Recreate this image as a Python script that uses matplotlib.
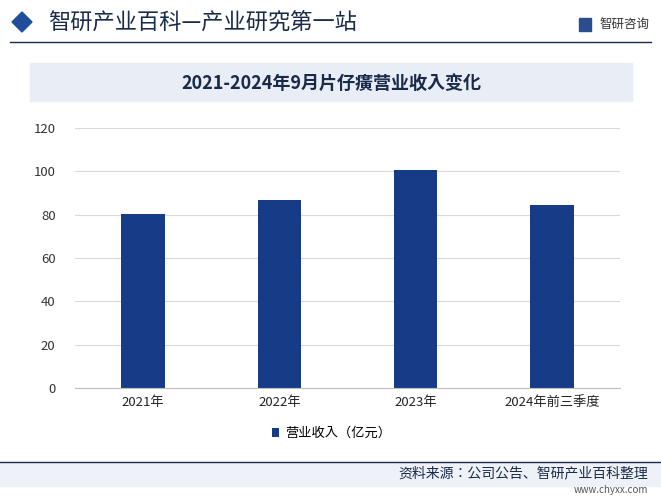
import matplotlib
matplotlib.use("Agg")
import matplotlib.pyplot as plt
from matplotlib.patches import Rectangle, Polygon
from matplotlib import font_manager as fm

names = {f.name for f in fm.fontManager.ttflist}
cjk = [n for n in ["Noto Sans CJK SC", "Noto Sans CJK JP", "Noto Sans CJK TC", "Noto Sans CJK KR"] if n in names]
plt.rcParams["font.family"] = "sans-serif"
plt.rcParams["font.sans-serif"] = cjk + ["DejaVu Sans"]

categories = ["2021年", "2022年", "2023年", "2024年前三季度"]
revenue = [80.2, 86.7, 100.6, 84.5]
yticks = [0, 20, 40, 60, 80, 100, 120]
series_name = "营业收入（亿元）"
title = "2021-2024年9月片仔癀营业收入变化"

W, H = 661, 498
fig = plt.figure(figsize=(W/100, H/100), dpi=100)
fig.patch.set_facecolor("white")

def fx(x): return x / W
def fy(y): return 1 - y / H

# header
fig.patches.append(Polygon([[fx(12), fy(22)], [fx(22), fy(12)], [fx(32), fy(22)], [fx(22), fy(32)]],
                           closed=True, transform=fig.transFigure, color="#1f4e9a"))
fig.text(fx(48), fy(22), "智研产业百科—产业研究第一站", fontsize=16, color="#1a2a4a", va="center", ha="left")
fig.text(fx(650), fy(24), "智研咨询", fontsize=9, color="#333333", va="center", ha="right")
fig.patches.append(Rectangle((fx(579), fy(31)), fx(12), 13/H, transform=fig.transFigure, color="#2a4d8f"))
fig.lines.append(plt.Line2D([fx(10), fx(651)], [fy(42), fy(42)], transform=fig.transFigure, color="#1a2a4a", lw=1))

# title box
fig.patches.append(Rectangle((fx(30), fy(101)), fx(602), 38/H, transform=fig.transFigure, color="#e8edf6"))
fig.text(fx(331), fy(83), title, fontsize=13, color="#1a2a4a", va="center", ha="center", fontweight="bold")

# axes
ax = fig.add_axes([fx(75), fy(388), fx(620) - fx(75), (388 - 128) / H])
x = range(len(categories))
ax.bar(x, revenue, width=0.32, color="#173c87", label=series_name)
ax.set_xlim(-0.5, len(categories) - 0.5)
ax.set_ylim(0, 120)
ax.set_yticks(yticks)
ax.set_xticks(list(x))
ax.set_xticklabels(categories, fontsize=9.5, color="#222222")
ax.tick_params(axis="y", labelsize=9.5, colors="#333333", length=0, pad=14)
ax.tick_params(axis="x", length=0, pad=6)
ax.grid(axis="y", color="#d9d9d9", lw=0.8)
ax.set_axisbelow(True)
for s in ["top", "right", "left"]:
    ax.spines[s].set_visible(False)
ax.spines["bottom"].set_color("#bfbfbf")
ax.set_facecolor("none")
ax.legend(loc="center", bbox_to_anchor=(0.47, -0.175), frameon=False, fontsize=9.5,
          handlelength=0.6, handleheight=0.6, handletextpad=0.4)

# footer
fig.patches.append(Rectangle((fx(0), fy(486)), 1, 24/H, transform=fig.transFigure, color="#eef2f8"))
fig.lines.append(plt.Line2D([fx(0), fx(661)], [fy(462), fy(462)], transform=fig.transFigure, color="#1a2a4a", lw=1))
fig.text(fx(648), fy(473), "资料来源：公司公告、智研产业百科整理", fontsize=10, color="#1a2a4a", va="center", ha="right")
fig.text(fx(648), fy(490), "www.chyxx.com", fontsize=7, color="#555555", va="center", ha="right")

fig.savefig("out.png", dpi=100)
